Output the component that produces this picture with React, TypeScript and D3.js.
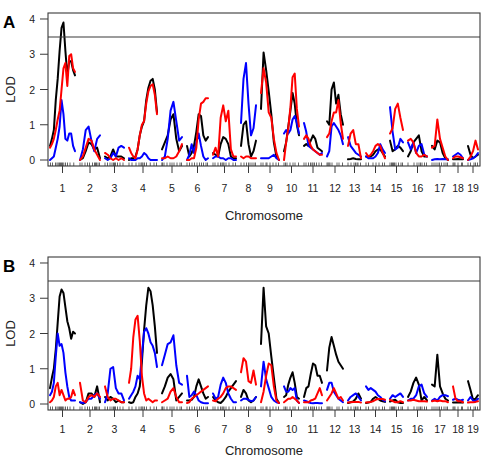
import React from "react";
import * as d3 from "d3";

// Genome layout (cM)
const chromosomes = ["1", "2", "3", "4", "5", "6", "7", "8", "9", "10", "11", "12", "13", "14", "15", "16", "17", "18", "19"];
const chrLengths = [100, 80, 76, 112, 80, 84, 92, 60, 72, 60, 72, 64, 52, 76, 52, 76, 64, 40, 40];
const chrGap = 20;
const lodTicks = [0, 1, 2, 3, 4];
const lodThreshold = 3.49;

// Marker positions within each chromosome (cM)
const markers: number[][] = [
  [2, 10, 22, 28, 33, 38, 42, 46, 50, 55, 62, 70, 80, 95],
  [0, 8, 20, 30, 38, 50, 58, 62, 66, 72, 78],
  [0, 10, 20, 28, 34, 38, 42, 50, 60, 72],
  [0, 12, 28, 40, 48, 52, 56, 62, 70, 85, 100, 110],
  [0, 1, 8, 20, 32, 40, 48, 60, 72, 78],
  [0, 10, 20, 30, 40, 50, 58, 66, 76, 82],
  [0, 8, 20, 30, 36, 40, 44, 52, 64, 80, 90],
  [0, 12, 22, 30, 36, 44, 52, 58],
  [0, 8, 20, 24, 36, 48, 60, 70],
  [0, 6, 12, 24, 36, 44, 58],
  [0, 8, 18, 26, 32, 36, 42, 50, 60, 70],
  [0, 4, 8, 12, 20, 40, 48, 62],
  [0, 12, 24, 30, 36, 40, 50],
  [0, 10, 28, 40, 52, 66, 74],
  [0, 6, 10, 14, 18, 24, 34, 44, 50],
  [0, 24, 36, 44, 50, 56, 66, 74],
  [0, 8, 16, 24, 30, 38, 48, 56, 62],
  [0, 4, 8, 20, 34, 38],
  [0, 10, 24, 30, 38],
];

// LOD profiles, evenly spaced along each chromosome
const lodA_black: number[][] = [
  [0.4, 0.6, 0.85, 1.7, 2.3, 3.1, 3.75, 3.9, 3.1, 2.4, 2.8, 2.8, 2.55, 2.4],
  [0.0, 0.05, 0.25, 0.5, 0.45, 0.3, 0.35, 0.05],
  [0.1, 0.05, 0.1, 0.3, 0.1, 0.1, 0.1, 0.05],
  [0.0, 0.05, 0.05, 0.1, 0.3, 0.7, 0.95, 1.1, 1.7, 2.05, 2.25, 2.3, 2.0, 1.35],
  [0.3, 0.5, 0.7, 1.15, 1.3, 0.6, 0.25, 0.4],
  [0.4, 0.1, 0.2, 0.4, 0.8, 1.3, 1.25, 0.7, 0.55, 0.65],
  [0.2, 0.15, 0.1, 0.45, 0.65, 0.6, 0.45, 0.1, 0.05, 0.05],
  [0.4, 1.0, 1.1, 0.45, 0.1, 0.25, 0.55],
  [1.45, 3.05, 2.55, 1.95, 1.3, 0.5, 0.1, 0.0],
  [0.25, 0.5, 0.95, 1.4, 1.9, 1.6, 1.0, 0.7],
  [0.4, 0.45, 0.4, 0.55, 0.7, 0.6, 0.35, 0.3, 0.25],
  [1.1, 1.0, 2.0, 2.2, 1.6, 1.85, 1.3, 1.0],
  [0.02, 0.03, 0.05, 0.03, 0.02, 0.02],
  [0.1, 0.1, 0.1, 0.15, 0.25, 0.3, 0.3, 0.2, 0.1],
  [0.55, 0.25, 0.3, 0.4, 0.35, 0.25],
  [0.1, 0.25, 0.5, 0.6, 0.7, 0.25, 0.1, 0.1],
  [0.4, 0.3, 0.55, 0.5, 0.2, 0.05, 0.0],
  [0.02, 0.02, 0.03, 0.02, 0.02],
  [0.4, 0.15, 0.05, 0.1, 0.15],
];

const lodA_red: number[][] = [
  [0.35, 0.45, 0.6, 0.85, 1.15, 1.4, 2.0, 2.6, 2.75, 2.1, 2.95, 3.0, 2.6, 2.5],
  [0.0, 0.1, 0.35, 0.6, 0.55, 0.3, 0.15, 0.0],
  [0.2, 0.15, 0.05, 0.0, 0.05, 0.0, 0.05, 0.0],
  [0.35, 0.2, 0.1, 0.05, 0.3, 0.7, 1.0, 1.1, 1.6, 1.95, 2.1, 2.15, 1.85, 1.3],
  [0.05, 0.05, 0.1, 0.05, 0.05, 0.1, 0.25, 0.45],
  [0.0, 0.0, 0.05, 0.05, 0.35, 1.15, 1.6, 1.65, 1.75, 1.75],
  [0.15, 0.35, 0.1, 1.2, 1.55, 1.1, 1.4, 0.3, 0.1, 0.1],
  [0.1, 0.05, 0.1, 0.1, 0.05, 0.05, 0.05],
  [1.9, 2.6, 2.2, 1.35, 1.2, 0.6, 0.2, 0.0],
  [0.0, 0.5, 0.9, 1.5, 2.35, 2.45, 1.45, 0.95],
  [0.6, 0.7, 0.6, 0.4, 0.3, 0.25, 0.2, 0.15, 0.15],
  [0.65, 0.75, 1.1, 1.35, 1.35, 1.7, 1.05, 0.6],
  [0.4, 0.75, 0.85, 0.45, 0.45, 0.05],
  [0.2, 0.1, 0.15, 0.25, 0.4, 0.45, 0.4, 0.2, 0.05],
  [0.75, 0.9, 1.45, 1.6, 1.2, 0.85],
  [0.55, 0.6, 0.5, 0.2, 0.1, 0.1, 0.15, 0.1],
  [0.35, 0.4, 1.15, 0.6, 0.35, 0.1, 0.0],
  [0.05, 0.1, 0.1, 0.08, 0.05],
  [0.0, 0.1, 0.25, 0.55, 0.3],
];

const lodA_blue: number[][] = [
  [0.0, 0.05, 0.1, 0.35, 0.6, 0.95, 1.7, 1.3, 0.6, 0.55, 0.75, 0.75, 0.4, 0.25],
  [0.0, 0.3, 0.85, 0.95, 0.55, 0.25, 0.6, 0.7],
  [0.05, 0.0, 0.05, 0.2, 0.1, 0.35, 0.4, 0.35],
  [0.05, 0.0, 0.0, 0.0, 0.05, 0.05, 0.1, 0.2, 0.15, 0.05, 0.0, 0.0, 0.0, 0.0],
  [0.0, 0.1, 0.6, 1.4, 1.65, 1.1, 0.55, 0.65],
  [0.0, 0.15, 0.45, 0.2, 0.5, 0.75, 0.4, 0.1, 0.0, 0.05],
  [0.05, 0.1, 0.1, 0.05, 0.05, 0.0, 0.05, 0.05, 0.0, 0.0],
  [1.05, 2.3, 2.75, 1.6, 0.7, 0.9, 1.55],
  [0.05, 0.05, 0.05, 0.05, 0.1, 0.15, 0.05, 0.0],
  [0.75, 0.85, 0.75, 0.85, 1.15, 1.25, 1.05, 0.75],
  [1.05, 0.8, 0.4, 0.35, 0.3, 0.25, 0.2, 0.15, 0.2],
  [0.1, 0.25, 0.95, 1.05, 0.95, 0.85, 0.7, 0.45],
  [0.65, 0.4, 0.3, 0.2, 0.15, 0.1],
  [0.1, 0.05, 0.05, 0.05, 0.1, 0.2, 0.45, 0.3, 0.2],
  [1.5, 0.8, 0.3, 0.35, 0.6, 0.5],
  [0.5, 0.3, 0.5, 0.2, 0.4, 0.45, 0.15, 0.1],
  [0.0, 0.02, 0.03, 0.02, 0.03, 0.02, 0.02],
  [0.1, 0.15, 0.2, 0.15, 0.05],
  [0.0, 0.02, 0.05, 0.1, 0.2],
];

const lodB_black: number[][] = [
  [0.45, 0.75, 1.0, 1.55, 2.3, 3.05, 3.25, 3.15, 2.75, 2.35, 2.15, 1.85, 2.05, 2.0],
  [0.05, 0.0, 0.05, 0.3, 0.3, 0.2, 0.5, 0.05],
  [0.2, 0.1, 0.2, 0.15, 0.05, 0.1, 0.05, 0.05],
  [0.05, 0.03, 0.05, 0.2, 0.3, 0.5, 1.2, 2.1, 2.8, 3.3, 3.2, 2.8, 2.2, 1.45],
  [0.3, 0.5, 0.75, 0.85, 0.7, 0.1, 0.2, 0.3],
  [0.1, 0.1, 0.12, 0.2, 0.5, 0.7, 0.5, 0.3, 0.15, 0.2],
  [0.2, 0.1, 0.05, 0.03, 0.1, 0.2, 0.35, 0.45, 0.55, 0.65],
  [0.2, 0.4, 0.3, 0.1, 0.05, 0.1, 0.2],
  [1.7, 3.3, 2.2, 2.0, 1.35, 0.75, 0.15, 0.03],
  [0.2, 0.25, 0.55, 0.75, 0.9, 0.6, 0.2, 0.15],
  [0.2, 0.45, 0.5, 0.85, 1.15, 1.1, 0.8, 0.8, 0.6],
  [0.95, 1.6, 1.9, 1.65, 1.4, 1.2, 1.1, 1.0],
  [0.03, 0.05, 0.07, 0.15, 0.3, 0.15],
  [0.03, 0.04, 0.06, 0.15, 0.2, 0.15, 0.1, 0.08, 0.06],
  [0.07, 0.1, 0.12, 0.05, 0.03, 0.03],
  [0.2, 0.35, 0.6, 0.75, 0.55, 0.1, 0.2, 0.1],
  [0.55, 0.5, 1.4, 0.5, 0.3, 0.15, 0.1],
  [0.04, 0.04, 0.05, 0.04, 0.04],
  [0.65, 0.4, 0.12, 0.15, 0.25],
];

const lodB_red: number[][] = [
  [0.05, 0.1, 0.2, 0.5, 0.6, 0.25, 0.4, 0.25, 0.1, 0.15, 0.15, 0.2, 0.4, 0.25],
  [0.6, 0.1, 0.05, 0.2, 0.25, 0.2, 0.3, 0.2],
  [0.5, 0.2, 0.1, 0.15, 0.15, 0.1, 0.05, 0.05],
  [0.6, 1.0, 1.9, 2.4, 2.5, 1.8, 0.8, 0.3, 0.1, 0.15, 0.1, 0.05, 0.1, 0.1],
  [0.05, 0.1, 0.15, 0.35, 0.45, 0.2, 0.05, 0.05],
  [0.03, 0.05, 0.15, 0.2, 0.25, 0.3, 0.35, 0.4, 0.45, 0.5],
  [0.1, 0.08, 0.15, 0.2, 0.3, 0.45, 0.5, 0.5, 0.45, 0.4],
  [0.9, 1.3, 1.2, 0.65, 0.6, 0.95, 0.55],
  [0.05, 0.35, 0.8, 1.15, 1.1, 0.5, 0.1, 0.03],
  [0.05, 0.1, 0.15, 0.15, 0.2, 0.15, 0.1, 0.03],
  [0.05, 0.05, 0.05, 0.1, 0.12, 0.15, 0.3, 0.45, 0.25],
  [0.1, 0.2, 0.3, 0.45, 0.3, 0.15, 0.2, 0.1],
  [0.04, 0.05, 0.06, 0.06, 0.06, 0.04],
  [0.04, 0.05, 0.06, 0.08, 0.12, 0.14, 0.14, 0.14, 0.12],
  [0.12, 0.08, 0.05, 0.05, 0.08, 0.05],
  [0.1, 0.1, 0.12, 0.1, 0.08, 0.08, 0.08, 0.07],
  [0.08, 0.1, 0.08, 0.1, 0.08, 0.08, 0.05],
  [0.5, 0.15, 0.08, 0.08, 0.05],
  [0.04, 0.05, 0.05, 0.06, 0.08],
];

const lodB_blue: number[][] = [
  [0.25, 0.35, 0.6, 1.35, 2.0, 1.65, 1.7, 1.45, 0.9, 0.5, 0.2, 0.1, 0.1, 0.1],
  [0.05, 0.03, 0.05, 0.15, 0.15, 0.25, 0.3, 0.15],
  [0.05, 0.3, 1.0, 1.05, 0.45, 0.3, 0.3, 0.1],
  [0.15, 0.25, 0.35, 0.5, 0.8, 0.7, 1.4, 2.05, 2.15, 2.0, 1.75, 1.65, 1.45, 1.05],
  [1.1, 1.4, 1.7, 1.75, 1.95, 1.1, 0.6, 0.55],
  [0.8, 0.2, 0.25, 0.35, 0.25, 0.1, 0.05, 0.03, 0.02, 0.02],
  [0.3, 0.15, 0.2, 0.55, 0.75, 0.6, 0.3, 0.15, 0.05, 0.05],
  [0.1, 0.15, 0.15, 0.12, 0.08, 0.1, 0.2],
  [0.5, 1.2, 0.7, 0.45, 0.2, 0.1, 0.05, 0.03],
  [0.5, 0.35, 0.35, 0.45, 0.4, 0.45, 0.1, 0.03],
  [0.1, 0.08, 0.05, 0.03, 0.02, 0.03, 0.03, 0.02, 0.02],
  [0.4, 0.6, 0.6, 0.35, 0.25, 0.15, 0.1, 0.05],
  [0.1, 0.2, 0.25, 0.3, 0.2, 0.1],
  [0.5, 0.4, 0.45, 0.4, 0.35, 0.25, 0.2, 0.12, 0.08],
  [0.15, 0.25, 0.2, 0.25, 0.3, 0.2],
  [0.1, 0.15, 0.15, 0.25, 0.5, 0.55, 0.3, 0.2],
  [0.1, 0.15, 0.1, 0.2, 0.25, 0.25, 0.22],
  [0.12, 0.15, 0.12, 0.1, 0.12],
  [0.1, 0.2, 0.1, 0.08, 0.15],
];

// Layout
const WIDTH = 486;
const HEIGHT = 458;
const PLOT_LEFT = 48;
const PLOT_RIGHT = 480;
const PLOT_H = 153;
const FONT = "'Liberation Sans', Arial, Helvetica, sans-serif";
const AXIS_COLOR = "#3a3a3a";

const panels = [
  { label: "A", top: 13, tickLabelDy: 26, titleDy: 53.5, series: [lodA_black, lodA_blue, lodA_red] },
  { label: "B", top: 257, tickLabelDy: 23, titleDy: 45, series: [lodB_black, lodB_blue, lodB_red] },
];
const seriesColors = ["#000000", "#0000ff", "#ff0000"];

export default function App() {
  const starts: number[] = [];
  let acc = 0;
  chrLengths.forEach((len) => {
    starts.push(acc);
    acc += len + chrGap;
  });
  const genomeEnd = acc - chrGap;

  const x = d3.scaleLinear().domain([-8, genomeEnd + 8]).range([PLOT_LEFT, PLOT_RIGHT]);

  return (
    <svg
      width={WIDTH}
      height={HEIGHT}
      style={{ position: "absolute", left: 0, top: 0, background: "#fff" }}
      fontFamily={FONT}
    >
      <rect width={WIDTH} height={HEIGHT} fill="#fff" />
      {panels.map((p) => {
        const bottom = p.top + PLOT_H;
        const y = d3.scaleLinear().domain([-0.17, 4.17]).range([bottom, p.top]);
        const line = d3
          .line<[number, number]>()
          .x((d) => x(d[0]))
          .y((d) => y(d[1]));
        return (
          <g key={p.label}>
            <text x={3} y={p.top + 14.5} fontSize={17} fontWeight="bold" fill="#000">
              {p.label}
            </text>

            {/* LOD curves, one path per chromosome */}
            {p.series.map((s, si) => (
              <g key={si}>
                {s.map((vals, ci) => {
                  const len = chrLengths[ci];
                  const pts: [number, number][] = vals.map((v, i) => [
                    starts[ci] + (len * i) / (vals.length - 1),
                    v,
                  ]);
                  return (
                    <path
                      key={ci}
                      d={line(pts) || ""}
                      fill="none"
                      stroke={seriesColors[si]}
                      strokeWidth={2}
                      strokeLinejoin="round"
                      strokeLinecap="round"
                    />
                  );
                })}
              </g>
            ))}

            {/* marker rug */}
            {markers.map((ms, ci) =>
              ms.map((m, mi) => (
                <line
                  key={`${ci}-${mi}`}
                  x1={x(starts[ci] + m)}
                  x2={x(starts[ci] + m)}
                  y1={bottom}
                  y2={bottom - 3.5}
                  stroke="#222"
                  strokeWidth={0.7}
                />
              ))
            )}

            {/* threshold */}
            <line
              x1={PLOT_LEFT}
              x2={PLOT_RIGHT}
              y1={y(lodThreshold)}
              y2={y(lodThreshold)}
              stroke={AXIS_COLOR}
              strokeWidth={1.1}
            />

            <rect
              x={PLOT_LEFT}
              y={p.top}
              width={PLOT_RIGHT - PLOT_LEFT}
              height={PLOT_H}
              fill="none"
              stroke={AXIS_COLOR}
              strokeWidth={1.1}
            />

            {/* y axis */}
            {lodTicks.map((t) => (
              <g key={t}>
                <line x1={40} x2={PLOT_LEFT} y1={y(t)} y2={y(t)} stroke={AXIS_COLOR} strokeWidth={1} />
                <text
                  x={35}
                  y={y(t)}
                  fontSize={10.5}
                  textAnchor="end"
                  dominantBaseline="central"
                  fill="#222"
                >
                  {t}
                </text>
              </g>
            ))}
            <text
              transform={`translate(15, ${p.top + PLOT_H / 2}) rotate(-90)`}
              fontSize={13}
              textAnchor="middle"
              fill="#222"
            >
              LOD
            </text>

            {/* x axis */}
            {chromosomes.map((c, ci) => {
              const cx = x(starts[ci] + chrLengths[ci] / 2);
              return (
                <g key={c}>
                  <line x1={cx} x2={cx} y1={bottom} y2={bottom + 7} stroke={AXIS_COLOR} strokeWidth={1} />
                  <text x={cx} y={bottom + p.tickLabelDy} fontSize={10.5} textAnchor="middle" fill="#222">
                    {c}
                  </text>
                </g>
              );
            })}
            <text
              x={(PLOT_LEFT + PLOT_RIGHT) / 2}
              y={bottom + p.titleDy}
              fontSize={13}
              textAnchor="middle"
              fill="#222"
            >
              Chromosome
            </text>
          </g>
        );
      })}
    </svg>
  );
}
